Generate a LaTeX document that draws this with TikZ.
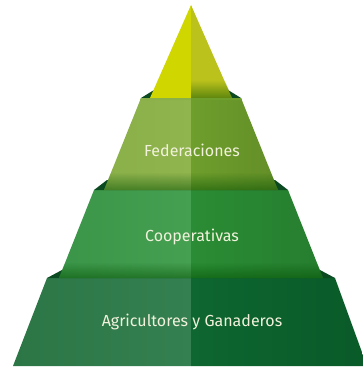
\documentclass[tikz,border=0pt]{standalone}
\usepackage{fontspec}
\setmainfont{Fira Sans}
\usepackage{tikz}
\usetikzlibrary{positioning, fadings}
\definecolor{tipL}{HTML}{CFD600}
\definecolor{tipR}{HTML}{BCC21C}
\definecolor{fedL}{HTML}{8AB04A}
\definecolor{fedLL}{HTML}{90B44E}
\definecolor{fedR}{HTML}{6E9E2C}
\definecolor{coopL}{HTML}{3A9548}
\definecolor{coopLL}{HTML}{46A052}
\definecolor{coopR}{HTML}{2A8C34}
\definecolor{agrL}{HTML}{2C7646}
\definecolor{agrLL}{HTML}{358050}
\definecolor{agrR}{HTML}{0E6630}
\definecolor{agrRR}{HTML}{095A28}
\definecolor{ledge}{HTML}{0C4A22}
\definecolor{labeltext}{HTML}{F2F2DC}
\tikzfading[name=shadowfade, top color=transparent!100, bottom color=transparent!50]
\tikzset{tierlabel/.style={text=labeltext, font=\fontsize{16}{18}\selectfont},
	shadowband/.style={fill=black!70!green, path fading=shadowfade}}

\begin{document}
\begin{tikzpicture}[x=1pt, y=-1pt]
		\useasboundingbox (0,0) rectangle (362,369);
		% bottom tier
		\shade[left color=agrL, right color=agrLL] (13,366) -- (47,278) -- (191,278) -- (191,366) -- cycle;
		\shade[left color=agrR, right color=agrRR] (191,366) -- (191,278) -- (335,278) -- (367,366) -- cycle;
		\fill[ledge] (47,278) -- (62,270) -- (320,270) -- (335,278) -- cycle;
		% middle tier
		\shade[left color=coopL, right color=coopLL] (59,278) -- (94,190) -- (191,190) -- (191,278) -- cycle;
		\shade[left color=coopR, right color=coopR!90!black] (191,278) -- (191,190) -- (288,190) -- (323,278) -- cycle;
		\fill[shadowband] (65,262) -- (317,262) -- (323,278) -- (59,278) -- cycle;
		\fill[ledge] (94,190) -- (107,180) -- (275,180) -- (288,190) -- cycle;
		% top tier
		\shade[left color=fedL, right color=fedLL] (104,190) -- (141,98) -- (191,98) -- (191,190) -- cycle;
		\shade[left color=fedR, right color=fedR!90!black] (191,190) -- (191,98) -- (241,98) -- (278,190) -- cycle;
		\fill[shadowband] (111,172) -- (271,172) -- (278,190) -- (104,190) -- cycle;
		\fill[ledge] (141,98) -- (154,90) -- (228,90) -- (241,98) -- cycle;
		% tip
		\fill[tipL] (191,5) -- (150,98) -- (191,98) -- cycle;
		\fill[tipR] (191,5) -- (191,98) -- (232,98) -- cycle;
		\fill[shadowband] (191,80) -- (225,80) -- (232,98) -- (191,98) -- cycle;
		\fill[fedL] (141,98) -- (191,98) -- (191,100) -- (140,100) -- cycle;
		\fill[fedR] (191,98) -- (241,98) -- (242,100) -- (191,100) -- cycle;
		% labels
		\node[tierlabel] (fed) at (192,150) {Federaciones};
		\node[tierlabel] (coop) at (192,237) {Cooperativas};
		\node[tierlabel] (agr) at (192,322) {Agricultores y Ganaderos};
\end{tikzpicture}
\end{document}
